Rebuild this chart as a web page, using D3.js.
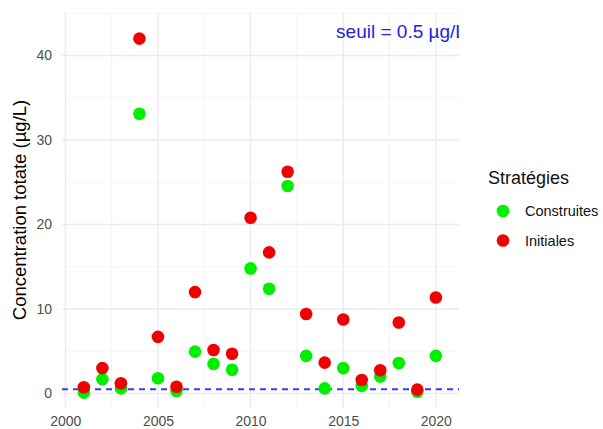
<!DOCTYPE html>
<html>
<head>
<meta charset="utf-8">
<script src="https://cdn.jsdelivr.net/npm/d3@7"></script>
<style>
  body { margin: 0; background: #fff; }
  svg text { font-family: "Liberation Sans", Arial, sans-serif; }
</style>
</head>
<body>
<svg id="chart" width="603" height="429"></svg>
<script>
// values
var years = [2001, 2002, 2003, 2004, 2005, 2006, 2007, 2008, 2009, 2010,
             2011, 2012, 2013, 2014, 2015, 2016, 2017, 2018, 2019, 2020];
var construites = [0.1, 1.7, 0.6, 33.1, 1.8, 0.3, 4.95, 3.5, 2.8, 14.8,
                   12.4, 24.55, 4.45, 0.6, 3.0, 0.9, 2.0, 3.6, 0.2, 4.45];
var initiales = [0.73, 3.0, 1.2, 42.0, 6.7, 0.8, 12.0, 5.15, 4.7, 20.8,
                 16.7, 26.25, 9.4, 3.65, 8.75, 1.6, 2.75, 8.4, 0.45, 11.35];
var seriesNames = ["Construites", "Initiales"];
var seriesColors = ["#00ee00", "#f00000"];
var xTicks = [2000, 2005, 2010, 2015, 2020];
var yTicks = [0, 10, 20, 30, 40];
var seuil = 0.5;

var svg = d3.select("#chart");
var panel = {left: 62, right: 459, top: 12, bottom: 408};

var x = d3.scaleLinear().domain([1999.82, 2021.25]).range([panel.left, panel.right]);
var y = d3.scaleLinear().domain([-1.72, 45.15]).range([panel.bottom, panel.top]);

// grid (minor then major)
var g = svg.append("g");
var xMinor = d3.range(1997.5, 2025, 5).filter(function(d){ return d > x.domain()[0] && d < x.domain()[1]; });
var yMinor = d3.range(-5, 50, 10).filter(function(d){ return d > y.domain()[0] && d < y.domain()[1]; });

g.selectAll(".xminor").data(xMinor).enter().append("line")
  .attr("x1", function(d){ return x(d); }).attr("x2", function(d){ return x(d); })
  .attr("y1", panel.top).attr("y2", panel.bottom)
  .attr("stroke", "#f2f2f2").attr("stroke-width", 0.8);
g.selectAll(".yminor").data(yMinor).enter().append("line")
  .attr("x1", panel.left).attr("x2", panel.right)
  .attr("y1", function(d){ return y(d); }).attr("y2", function(d){ return y(d); })
  .attr("stroke", "#f2f2f2").attr("stroke-width", 0.8);
g.selectAll(".xmajor").data(xTicks).enter().append("line")
  .attr("x1", function(d){ return x(d); }).attr("x2", function(d){ return x(d); })
  .attr("y1", panel.top).attr("y2", panel.bottom)
  .attr("stroke", "#ebebeb").attr("stroke-width", 1.3);
g.selectAll(".ymajor").data(yTicks).enter().append("line")
  .attr("x1", panel.left).attr("x2", panel.right)
  .attr("y1", function(d){ return y(d); }).attr("y2", function(d){ return y(d); })
  .attr("stroke", "#ebebeb").attr("stroke-width", 1.3);

// axes (labels only, like theme_minimal)
var xAxis = svg.append("g").attr("transform", "translate(0," + (panel.bottom + 3) + ")")
  .call(d3.axisBottom(x).tickValues(xTicks).tickFormat(d3.format("d")).tickSize(0).tickPadding(5));
var yAxis = svg.append("g").attr("transform", "translate(" + (panel.left - 4) + ",0)")
  .call(d3.axisLeft(y).tickValues(yTicks).tickSize(0).tickPadding(6));
[xAxis, yAxis].forEach(function(a){
  a.select(".domain").remove();
  a.selectAll("text").attr("fill", "#4d4d4d").style("font-size", "14px");
});

svg.append("text")
  .attr("transform", "translate(19," + ((panel.top + panel.bottom) / 2) + ") rotate(-90)")
  .attr("text-anchor", "middle").attr("dominant-baseline", "central")
  .attr("fill", "#000").style("font-size", "18.5px")
  .text("Concentration totate (µg/L)");

// clip for panel contents
svg.append("clipPath").attr("id", "clip").append("rect")
  .attr("x", panel.left).attr("y", panel.top)
  .attr("width", panel.right - panel.left).attr("height", panel.bottom - panel.top);
var plot = svg.append("g").attr("clip-path", "url(#clip)");

// threshold line
plot.append("line")
  .attr("x1", panel.left).attr("x2", panel.right)
  .attr("y1", y(seuil)).attr("y2", y(seuil))
  .attr("stroke", "#3a3af0").attr("stroke-width", 2)
  .attr("stroke-dasharray", "6,5");

// annotation, cut by the panel edge like the original
plot.append("text")
  .attr("x", x(2018.12)).attr("y", y(42.9))
  .attr("text-anchor", "middle").attr("dominant-baseline", "central")
  .attr("fill", "#2222e0").style("font-size", "19px")
  .text("seuil = 0.5 µg/L");

// points: green first, red on top
[construites, initiales].forEach(function(vals, i){
  plot.append("g").selectAll("circle")
    .data(vals.map(function(v, j){ return {year: years[j], value: v}; }))
    .enter().append("circle")
    .attr("cx", function(d){ return x(d.year); })
    .attr("cy", function(d){ return y(d.value); })
    .attr("r", 6.3)
    .attr("fill", seriesColors[i]);
});

// legend
var legend = svg.append("g");
legend.append("text").attr("x", 488).attr("y", 178)
  .attr("dominant-baseline", "central").attr("fill", "#111")
  .style("font-size", "18px").text("Stratégies");
seriesNames.forEach(function(name, i){
  var ly = 211 + i * 29.5;
  legend.append("circle").attr("cx", 503).attr("cy", ly).attr("r", 6.3).attr("fill", seriesColors[i]);
  legend.append("text").attr("x", 525).attr("y", ly)
    .attr("dominant-baseline", "central").attr("fill", "#111")
    .style("font-size", "14.5px").text(name);
});
</script>
</body>
</html>
